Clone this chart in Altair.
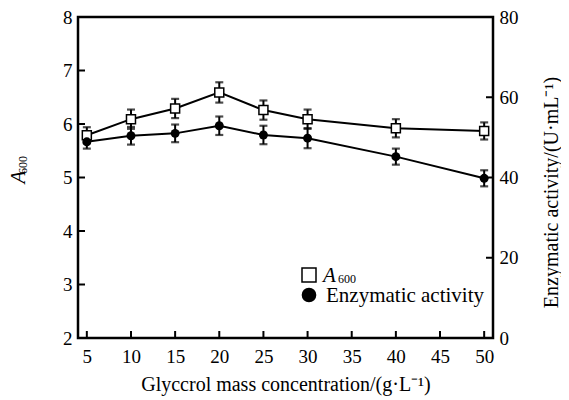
import altair as alt
import pandas as pd

# Data
conc = [5, 10, 15, 20, 25, 30, 40, 50]
a600 = [5.79, 6.09, 6.29, 6.59, 6.26, 6.09, 5.92, 5.87]
a600_err = [0.15, 0.18, 0.18, 0.19, 0.18, 0.18, 0.17, 0.16]
enzyme = [48.9, 50.4, 51.0, 52.9, 50.6, 49.8, 45.2, 39.8]
enzyme_err = [1.7, 2.2, 2.2, 2.3, 2.3, 2.5, 2.0, 2.0]

x_ticks = [5, 10, 15, 20, 25, 30, 35, 40, 45, 50]
left_ticks = [2, 3, 4, 5, 6, 7, 8]
right_ticks = [0, 20, 40, 60, 80]

FONT = "Liberation Serif"
W, H = 415, 321

df_a = pd.DataFrame({"x": conc, "y": a600,
                     "lo": [v - e for v, e in zip(a600, a600_err)],
                     "hi": [v + e for v, e in zip(a600, a600_err)]})
df_e = pd.DataFrame({"x": conc, "y": enzyme,
                     "lo": [v - e for v, e in zip(enzyme, enzyme_err)],
                     "hi": [v + e for v, e in zip(enzyme, enzyme_err)]})

xscale = alt.Scale(domain=[4, 51], nice=False, zero=False)
yl_scale = alt.Scale(domain=[2, 8], nice=False, zero=False)
yr_scale = alt.Scale(domain=[0, 80], nice=False, zero=False)

X_TITLE = "Glyccrol mass concentration/(g·L⁻¹)"
x_axis = alt.Axis(values=x_ticks, ticks=False, domain=False, grid=False,
                  orient="bottom",
                  labelFont=FONT, labelFontSize=19, labelColor="black",
                  labelPadding=9, labelFlush=False,
                  title=X_TITLE,
                  titleFont=FONT, titleFontSize=20, titleFontWeight="normal",
                  titleColor="black", titleBaseline="alphabetic", titleY=52)


def X(field="x"):
    return alt.X(f"{field}:Q", scale=xscale, axis=x_axis, title=X_TITLE)


left_axis = alt.Axis(values=left_ticks, ticks=False, domain=False, grid=False,
                     orient="left",
                     labelFont=FONT, labelFontSize=19, labelColor="black",
                     labelPadding=6, labelFlush=False, title=None)
right_axis = alt.Axis(values=right_ticks, ticks=False, domain=False, grid=False,
                      orient="right",
                      labelFont=FONT, labelFontSize=19, labelColor="black",
                      labelPadding=6, labelFlush=False,
                      title="Enzymatic activity/(U·mL⁻¹)",
                      titleFont=FONT, titleFontSize=20, titleFontWeight="normal",
                      titleColor="black", titleAngle=270, titleX=64, titleY=175,
                      titleBaseline="alphabetic", titleAlign="center")

# ---- left (A600) layers
base_a = alt.Chart(df_a)
a_err = base_a.mark_rule(color="black", strokeWidth=2).encode(
    x=X(), y=alt.Y("lo:Q", scale=yl_scale, axis=None), y2="hi:Q")
a_cap_lo = base_a.mark_tick(color="black", orient="horizontal", size=8, thickness=2.2).encode(
    x=X(), y=alt.Y("lo:Q", scale=yl_scale, axis=None))
a_cap_hi = base_a.mark_tick(color="black", orient="horizontal", size=8, thickness=2.2).encode(
    x=X(), y=alt.Y("hi:Q", scale=yl_scale, axis=None))
a_line = base_a.mark_line(color="black", strokeWidth=2).encode(
    x=X(), y=alt.Y("y:Q", scale=yl_scale, axis=left_axis))
a_pts = base_a.mark_point(shape="square", filled=True, fill="white", stroke="black",
                          strokeWidth=1.5, size=81, opacity=1).encode(
    x=X(), y=alt.Y("y:Q", scale=yl_scale, axis=None))

lt = pd.DataFrame({"t": left_ticks})
left_tick_marks = alt.Chart(lt).mark_rule(color="black", strokeWidth=2).encode(
    y=alt.Y("t:Q", scale=yl_scale, axis=None), x=alt.value(0), x2=alt.value(7))
xt = pd.DataFrame({"x": x_ticks})
x_tick_marks = alt.Chart(xt).mark_rule(color="black", strokeWidth=2).encode(
    x=X(), y=alt.value(H), y2=alt.value(H - 7))

# left title A600 (rotated)
lab_df = pd.DataFrame({"a": ["A"], "s": ["600"]})
left_title_a = alt.Chart(lab_df).mark_text(
    font=FONT, fontSize=21, fontStyle="italic", angle=270, align="center",
    baseline="alphabetic", color="black").encode(
    text="a:N", x=alt.value(-53), y=alt.value(160))
left_title_s = alt.Chart(lab_df).mark_text(
    font=FONT, fontSize=12, angle=270, align="center",
    baseline="alphabetic", color="black").encode(
    text="s:N", x=alt.value(-51), y=alt.value(148))

# legend
leg_sq = alt.Chart(lab_df).mark_point(shape="square", filled=True, fill="white",
                                      stroke="black", strokeWidth=1.5, size=196, opacity=1).encode(
    x=alt.value(231), y=alt.value(258))
leg_ci = alt.Chart(lab_df).mark_point(shape="circle", filled=True, fill="black",
                                      stroke="black", size=160, opacity=1).encode(
    x=alt.value(231), y=alt.value(278))
leg_a = alt.Chart(lab_df).mark_text(font=FONT, fontSize=21, fontStyle="italic",
                                    align="left", baseline="alphabetic", color="black").encode(
    text="a:N", x=alt.value(245), y=alt.value(265))
leg_s = alt.Chart(lab_df).mark_text(font=FONT, fontSize=12,
                                    align="left", baseline="alphabetic", color="black").encode(
    text="s:N", x=alt.value(260), y=alt.value(266))
leg_e = alt.Chart(pd.DataFrame({"e": ["Enzymatic activity"]})).mark_text(
    font=FONT, fontSize=21, align="left", baseline="alphabetic", color="black").encode(
    text="e:N", x=alt.value(248), y=alt.value(285))

# ---- right (enzyme) layers
base_e = alt.Chart(df_e)
e_err = base_e.mark_rule(color="black", strokeWidth=2).encode(
    x=X(), y=alt.Y("lo:Q", scale=yr_scale, axis=None), y2="hi:Q")
e_cap_lo = base_e.mark_tick(color="black", orient="horizontal", size=8, thickness=2.2).encode(
    x=X(), y=alt.Y("lo:Q", scale=yr_scale, axis=None))
e_cap_hi = base_e.mark_tick(color="black", orient="horizontal", size=8, thickness=2.2).encode(
    x=X(), y=alt.Y("hi:Q", scale=yr_scale, axis=None))
e_line = base_e.mark_line(color="black", strokeWidth=2).encode(
    x=X(), y=alt.Y("y:Q", scale=yr_scale, axis=right_axis))
e_pts = base_e.mark_point(shape="circle", filled=True, fill="black", size=80, opacity=1).encode(
    x=X(), y=alt.Y("y:Q", scale=yr_scale, axis=None))
rt = pd.DataFrame({"t": right_ticks})
right_tick_marks = alt.Chart(rt).mark_rule(color="black", strokeWidth=2).encode(
    y=alt.Y("t:Q", scale=yr_scale, axis=None), x=alt.value(W), x2=alt.value(W - 7))

chart = alt.layer(
    a_line, e_line,
    a_err, a_cap_lo, a_cap_hi, e_err, e_cap_lo, e_cap_hi,
    a_pts, e_pts,
    left_tick_marks, x_tick_marks, right_tick_marks,
    left_title_a, left_title_s, leg_sq, leg_ci, leg_a, leg_s, leg_e,
).resolve_scale(y="independent").properties(
    width=W, height=H,
    autosize=alt.AutoSizeParams(type="none"),
    padding={"left": 70, "top": 9, "right": 68, "bottom": 62},
    background="white",
).configure_view(stroke="black", strokeWidth=2.5)

chart.save("out.html", embed_options={"renderer": "svg", "actions": False})
